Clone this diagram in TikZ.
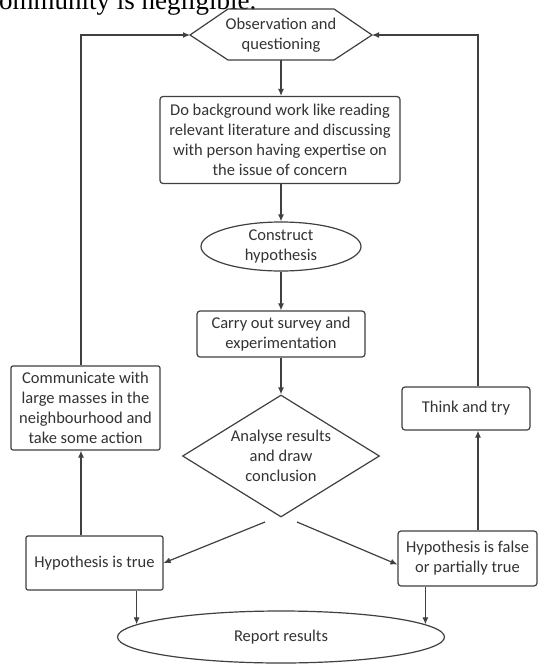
\documentclass[tikz,border=0pt]{standalone}
\usepackage{fontspec}
\setmainfont{Carlito}
\newfontfamily\toptextfont{Liberation Serif}
\usetikzlibrary{shapes.geometric,arrows.meta,calc}
\definecolor{ln}{HTML}{404040}
\definecolor{tx}{HTML}{333333}
\begin{document}
\begin{tikzpicture}[x=1pt,y=-1pt,
  every node/.style={font=\fontsize{16.5}{20}\selectfont, text=tx, align=center, inner sep=0pt},
  shp/.style={draw=ln, line width=1.2pt},
  rbox/.style={shp, rounded corners=3pt},
  conn/.style={draw=ln, line width=1.2pt},
  arr/.style={conn, -{Latex[length=7pt,width=6pt]}}]
\useasboundingbox (0,0) rectangle (544,664);
\fill[white] (0,0) rectangle (544,664);
% cut-off text at the top
\node[anchor=base west, font=\toptextfont\fontsize{27}{30}\selectfont, text=black] (toptext) at (-1,9) {ommunity is negligible.};
% hexagon
\coordinate (hexW) at (190,35);
\coordinate (hexE) at (372,35);
\coordinate (hexS) at (281,60);
\draw[shp] (hexW) -- (228,9) -- (334,9) -- (hexE) -- (334,60) -- (228,60) -- cycle;
\node (hex) at (281,35) {Observation and\\questioning};
% boxes
\node[rbox, minimum width=240pt, minimum height=87pt] (bg) at (280,140)
  {Do background work like reading\\relevant literature and discussing\\with person having expertise on\\the issue of concern};
\node[shp, ellipse, minimum width=160pt, minimum height=49pt] (hyp) at (281,246.5) {Construct\\hypothesis};
\node[rbox, minimum width=168pt, minimum height=46pt] (carry) at (281,334) {Carry out survey and\\experimentation};
\node[shp, diamond, minimum width=197pt, minimum height=122pt, aspect=1.6] (dia) at (281,456) {Analyse results\\and draw\\conclusion};
\node[rbox, rounded corners=2pt, minimum width=149pt, minimum height=84pt] (comm) at (85.5,408)
  {Communicate with\\large masses in the\\neighbourhood and\\take some action};
\node[rbox, minimum width=128pt, minimum height=43pt] (think) at (466,408.5) {Think and try};
\node[rbox, rounded corners=2pt, minimum width=137pt, minimum height=54pt] (hypT) at (94.5,563) {Hypothesis is true};
\node[rbox, minimum width=139pt, minimum height=55pt] (hypF) at (467.5,558.5) {Hypothesis is false\\or partially true};
\node[shp, ellipse, minimum width=327pt, minimum height=52pt] (report) at (281,637) {Report results};
% helper coordinates
\coordinate (lx) at (81,0);
\coordinate (rx) at (478,0);
\coordinate (dL) at (265,522);
\coordinate (dR) at (297,522);
% connectors
\draw[arr] (hexS) -- (bg.north -| hexS);
\draw[arr] (bg.south -| hyp.north) -- (hyp.north);
\draw[arr] (hyp.south) -- (carry.north -| hyp.south);
\draw[arr] (carry.south -| dia.north) -- (dia.north);
\draw[arr] (dL) -- (hypT.east);
\draw[arr] (dR) -- ($(hypF.west)+(0,6)$);
\draw[arr] (lx |- hypT.north) -- (lx |- comm.south);
\draw[arr] (lx |- comm.north) |- (hexW);
\draw[arr] (rx |- hypF.north) -- (rx |- think.south);
\draw[arr] (rx |- think.north) |- (hexE);
\draw[arr] (report.175 |- hypT.south) -- (report.175);
\draw[arr] (report.5.5 |- hypF.south) -- (report.5.5);
\end{tikzpicture}
\end{document}
